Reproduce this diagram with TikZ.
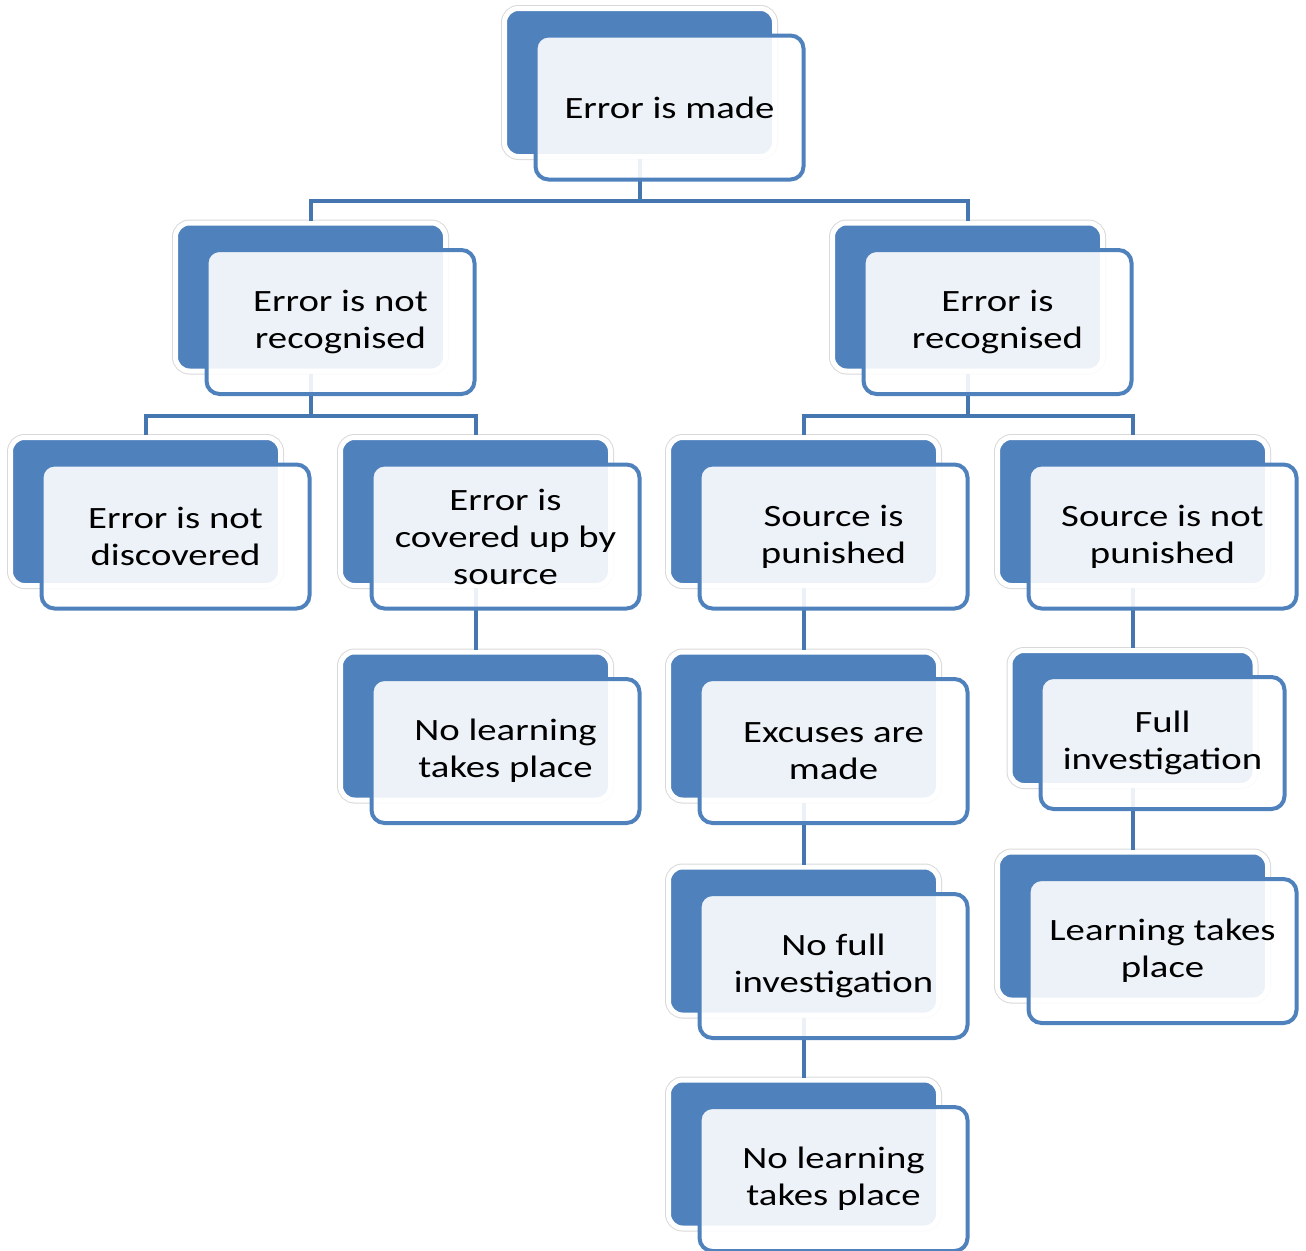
\documentclass[tikz,border=0pt]{standalone}
\usepackage{fontspec}
\setmainfont{Carlito}[FakeStretch=1.25]
\usepackage{tikz}
\usetikzlibrary{positioning, calc}
\definecolor{cardblue}{RGB}{79, 129, 189}
\definecolor{linkblue}{RGB}{70, 118, 176}

\begin{document}
\begin{tikzpicture}[x=1pt, y=-1pt,
        back/.style={fill=cardblue, draw=white, line width=5pt, rounded corners=14pt,
          minimum width=270pt, minimum height=148pt, inner sep=0pt,
          preaction={draw=black!15, line width=7pt}},
        backsmall/.style={back, minimum width=245pt, minimum height=135pt},
        front/.style={draw=cardblue, line width=4pt, fill=white, fill opacity=0.9,
          text opacity=1, rounded corners=13pt, minimum width=268pt,
          minimum height=144pt, inner sep=0pt, align=center,
          font=\fontsize{31}{37}\selectfont},
        frontsmall/.style={front, minimum width=244pt, minimum height=132pt},
        link/.style={linkblue, line width=4pt}]

        \useasboundingbox (0,0) rectangle (1306,1250);
        \clip (0,0) rectangle (1306,1250);

        % Back cards
        \node[back] (madeBack) at (639.5,82.5) {};
        \node[back] (notrecBack) at (310.5,297) {};
        \node[back] (recBack) at (967.5,297) {};
        \node[back] (notdiscBack) at (145.5,511.5) {};
        \node[back] (coveredBack) at (475.5,511.5) {};
        \node[back] (punishedBack) at (803.5,511.5) {};
        \node[back] (notpunBack) at (1132.5,511.5) {};
        \node[back] (nolearnABack) at (475.5,726) {};
        \node[back] (excusesBack) at (803.5,726) {};
        \node[backsmall] (fullinvBack) at (1132.5,718) {};
        \node[back] (learningBack) at (1132.5,926) {};
        \node[back] (nofullBack) at (803.5,941) {};
        \node[back] (nolearnBBack) at (803.5,1154) {};

        % Links
        \coordinate (bus1) at (639.5,201);
        \coordinate (bus2) at (310.5,416);
        \coordinate (bus3) at (967.5,416);
        \draw[link] (madeBack.south) -- (bus1);
        \draw[link] (notrecBack.north) |- (bus1) -| (recBack.north);
        \draw[link] (notrecBack.south) -- (bus2);
        \draw[link] (notdiscBack.north) |- (bus2) -| (coveredBack.north);
        \draw[link] (recBack.south) -- (bus3);
        \draw[link] (punishedBack.north) |- (bus3) -| (notpunBack.north);
        \draw[link] (coveredBack.south) -- (nolearnABack.north);
        \draw[link] (punishedBack.south) -- (excusesBack.north);
        \draw[link] (excusesBack.south) -- (nofullBack.north);
        \draw[link] (nofullBack.south) -- (nolearnBBack.north);
        \draw[link] (notpunBack.south) -- (fullinvBack.north);
        \draw[link] (fullinvBack.south) -- (learningBack.north);

        % Front cards
        \node[front] (made) at ([shift={(30,25)}]madeBack.center) {Error is made};
        \node[front] (notrec) at ([shift={(30,25)}]notrecBack.center) {Error is not\\recognised};
        \node[front] (rec) at ([shift={(30,25)}]recBack.center) {Error is\\recognised};
        \node[front] (notdisc) at ([shift={(30,25)}]notdiscBack.center) {Error is not\\discovered};
        \node[front] (covered) at ([shift={(30,25)}]coveredBack.center) {Error is\\covered up by\\source};
        \node[front] (punished) at ([shift={(30,25)}]punishedBack.center) {Source is\\punished};
        \node[front] (notpun) at ([shift={(30,25)}]notpunBack.center) {Source is not\\punished};
        \node[front] (nolearnA) at ([shift={(30,25)}]nolearnABack.center) {No learning\\takes place};
        \node[front] (excuses) at ([shift={(30,25)}]excusesBack.center) {Excuses are\\made};
        \node[frontsmall] (fullinv) at ([shift={(30,25)}]fullinvBack.center) {Full\\investigation};
        \node[front] (learning) at ([shift={(30,25)}]learningBack.center) {Learning takes\\place};
        \node[front] (nofull) at ([shift={(30,25)}]nofullBack.center) {No full\\investigation};
        \node[front] (nolearnB) at ([shift={(30,25)}]nolearnBBack.center) {No learning\\takes place};

\end{tikzpicture}
\end{document}
